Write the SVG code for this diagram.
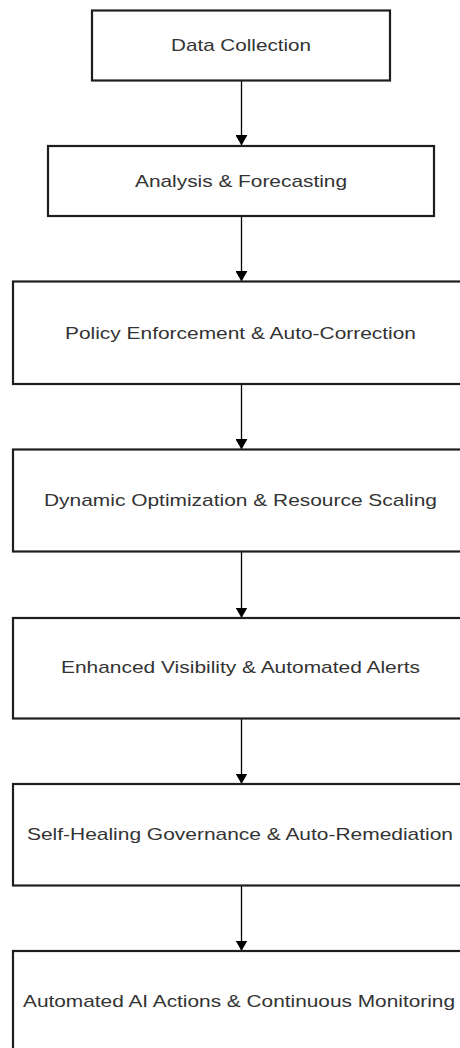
<svg xmlns="http://www.w3.org/2000/svg" width="460" height="1048" viewBox="0 0 460 1048">
<style>
.box{fill:#ffffff;stroke:#1e1e1e;stroke-width:2.2}
.lbl{font-family:"Liberation Sans",Arial,sans-serif;font-size:17px;fill:#333333;text-anchor:middle}
.edge{stroke:#000000;stroke-width:1.3;fill:none;marker-end:url(#arr)}
</style>
<defs>
<marker id="arr" markerUnits="userSpaceOnUse" markerWidth="11" markerHeight="12" refX="10.5" refY="6" orient="auto" viewBox="0 0 11 12">
<path d="M0,0 L10.5,6 L0,12 Z" fill="#000000"/>
</marker>
</defs>
<rect width="460" height="1048" fill="#ffffff"/>
<g id="connectors">
<path class="edge" d="M241.5,81 L241.5,145.5"/>
<path class="edge" d="M241.5,217 L241.5,281.5"/>
<path class="edge" d="M241.5,384 L241.5,449.5"/>
<path class="edge" d="M241.5,552 L241.5,618"/>
<path class="edge" d="M241.5,718.5 L241.5,784"/>
<path class="edge" d="M241.5,885.5 L241.5,951"/>
</g>
<g id="n1">
<rect class="box" x="92" y="10.5" width="298" height="70"/>
<text class="lbl" x="241" y="51" textLength="140" lengthAdjust="spacingAndGlyphs">Data Collection</text>
</g>
<g id="n2">
<rect class="box" x="48" y="146" width="386" height="70"/>
<text class="lbl" x="241" y="187" textLength="212" lengthAdjust="spacingAndGlyphs">Analysis &amp; Forecasting</text>
</g>
<g id="n3">
<rect class="box" x="13" y="281.5" width="457" height="102.5"/>
<text class="lbl" x="240.5" y="338.5" textLength="351" lengthAdjust="spacingAndGlyphs">Policy Enforcement &amp; Auto-Correction</text>
</g>
<g id="n4">
<rect class="box" x="13" y="449.5" width="457" height="102"/>
<text class="lbl" x="240.5" y="506" textLength="393" lengthAdjust="spacingAndGlyphs">Dynamic Optimization &amp; Resource Scaling</text>
</g>
<g id="n5">
<rect class="box" x="13" y="618" width="457" height="100.5"/>
<text class="lbl" x="240.5" y="673" textLength="359" lengthAdjust="spacingAndGlyphs">Enhanced Visibility &amp; Automated Alerts</text>
</g>
<g id="n6">
<rect class="box" x="13" y="784" width="457" height="101.5"/>
<text class="lbl" x="240" y="840" textLength="426" lengthAdjust="spacingAndGlyphs">Self-Healing Governance &amp; Auto-Remediation</text>
</g>
<g id="n7">
<rect class="box" x="13" y="951" width="457" height="102"/>
<text class="lbl" x="239" y="1007" textLength="432" lengthAdjust="spacingAndGlyphs">Automated AI Actions &amp; Continuous Monitoring</text>
</g>
</svg>
